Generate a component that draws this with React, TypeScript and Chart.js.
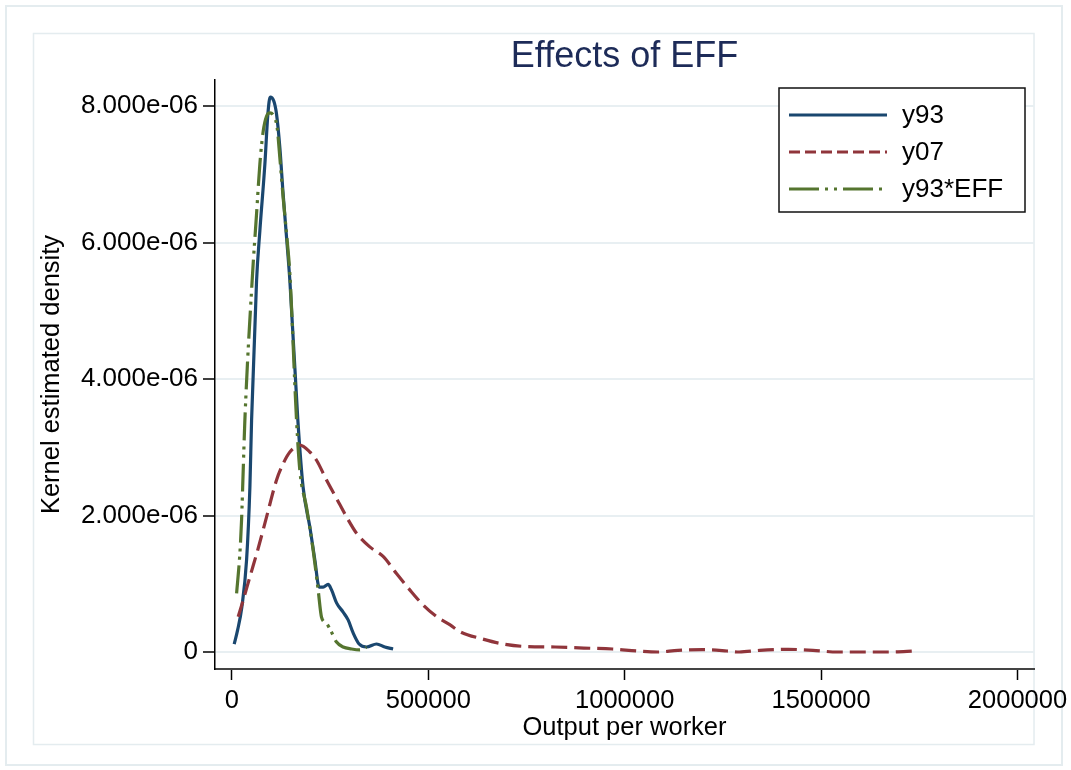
import React, { useEffect, useRef } from "react";
import { Chart, registerables } from "chart.js";

Chart.register(...registerables);

const FONT = "'Liberation Sans', Arial, Helvetica, sans-serif";

const chartTitle = "Effects of EFF";
const xAxisTitle = "Output per worker";
const yAxisTitle = "Kernel estimated density";
const seriesNames = ["y93", "y07", "y93*EFF"];
const seriesColors = ["#1a476f", "#90353b", "#55752f"];

// y93 kernel density (x: output per worker, y: density)
const y93X = [5900, 14500, 25400, 37400, 45800, 50100, 62800, 71200, 84000, 91600, 97500, 106900, 113700, 122100, 129800, 139200, 147600, 168000, 181400, 198500, 211200, 222100, 232300, 245000, 253700, 266400, 283200, 295900, 308700, 323900, 342700, 368200, 389300, 410400];
const y93Y = [0.117e-6, 0.32e-6, 0.66e-6, 1.35e-6, 2.41e-6, 3.39e-6, 5.44e-6, 6.17e-6, 7.15e-6, 7.88e-6, 8.13e-6, 8.07e-6, 7.88e-6, 7.39e-6, 6.76e-6, 6.07e-6, 5.44e-6, 3.39e-6, 2.41e-6, 1.83e-6, 1.35e-6, 0.95e-6, 0.95e-6, 0.99e-6, 0.91e-6, 0.72e-6, 0.585e-6, 0.47e-6, 0.28e-6, 0.117e-6, 0.073e-6, 0.117e-6, 0.073e-6, 0.044e-6];

// y07 kernel density
const y07X = [16000, 28800, 45800, 67000, 88300, 113700, 130600, 147600, 173000, 198500, 215500, 240900, 266400, 291800, 317300, 351100, 385000, 419000, 452900, 486800, 520800, 554700, 583300, 635400, 687500, 739600, 822900, 895800, 968800, 1031300, 1083300, 1135400, 1197900, 1260400, 1291700, 1343800, 1416700, 1479200, 1541700, 1604200, 1677100, 1739600];
const y07Y = [0.517e-6, 0.76e-6, 1.10e-6, 1.52e-6, 1.98e-6, 2.52e-6, 2.76e-6, 2.93e-6, 3.03e-6, 2.93e-6, 2.81e-6, 2.52e-6, 2.25e-6, 1.98e-6, 1.74e-6, 1.54e-6, 1.40e-6, 1.15e-6, 0.91e-6, 0.69e-6, 0.52e-6, 0.40e-6, 0.29e-6, 0.195e-6, 0.12e-6, 0.083e-6, 0.073e-6, 0.058e-6, 0.044e-6, 0.015e-6, 0.0, 0.024e-6, 0.034e-6, 0.015e-6, 0.0, 0.024e-6, 0.039e-6, 0.024e-6, 0.0, 0.0, 0.0, 0.015e-6];

// y93*EFF kernel density
const effX = [12000, 20400, 24600, 28800, 33000, 52600, 62800, 71200, 79700, 88200, 96700, 106900, 115300, 122100, 130600, 140700, 147600, 164600, 173000, 190000, 206900, 219600, 228200, 240900, 253700, 266400, 283200, 304600, 325700, 342700];
const effY = [0.86e-6, 1.45e-6, 1.93e-6, 2.66e-6, 3.39e-6, 5.54e-6, 6.42e-6, 7.15e-6, 7.63e-6, 7.85e-6, 7.90e-6, 7.85e-6, 7.68e-6, 7.24e-6, 6.65e-6, 6.03e-6, 5.54e-6, 3.39e-6, 2.66e-6, 2.12e-6, 1.49e-6, 0.91e-6, 0.51e-6, 0.42e-6, 0.29e-6, 0.146e-6, 0.073e-6, 0.044e-6, 0.03e-6, 0.07e-6];

const xTickValues = [0, 500000, 1000000, 1500000, 2000000];
const xTickLabels = ["0", "500000", "1000000", "1500000", "2000000"];
const yTickValues = [0, 2e-6, 4e-6, 6e-6, 8e-6];
const yTickLabels = ["0", "2.000e-06", "4.000e-06", "6.000e-06", "8.000e-06"];

const toPoints = (xs: number[], ys: number[]) => xs.map((x, i) => ({ x, y: ys[i] }));

const framePlugin = {
  id: "stataFrame",
  beforeDraw(chart: any) {
    const { ctx, width, height, chartArea } = chart;
    ctx.save();
    ctx.fillStyle = "#ffffff";
    ctx.fillRect(0, 0, width, height);
    ctx.strokeStyle = "#e4ecef";
    ctx.lineWidth = 2;
    ctx.strokeRect(6, 6, 1056, 759);
    ctx.lineWidth = 1.5;
    ctx.strokeRect(33.5, 33.5, chartArea.right - 33.5, 711);
    ctx.restore();
  },
};

const titlePlugin = {
  id: "stataTitle",
  afterDraw(chart: any) {
    const { ctx, chartArea } = chart;
    ctx.save();
    ctx.font = `36px ${FONT}`;
    ctx.fillStyle = "#1d2b58";
    ctx.textAlign = "center";
    ctx.textBaseline = "alphabetic";
    ctx.fillText(chartTitle, (chartArea.left + chartArea.right) / 2, 67);
    ctx.restore();
  },
};

const legendPlugin = {
  id: "stataLegend",
  afterDraw(chart: any) {
    const { ctx, chartArea } = chart;
    const w = 246;
    const h = 124;
    const x0 = chartArea.right - 9 - w;
    const y0 = chartArea.top + 8;
    ctx.save();
    ctx.fillStyle = "#ffffff";
    ctx.fillRect(x0, y0, w, h);
    ctx.strokeStyle = "#111111";
    ctx.lineWidth = 1.5;
    ctx.strokeRect(x0, y0, w, h);
    chart.data.datasets.forEach((ds: any, i: number) => {
      const cy = y0 + 27 + i * 37;
      ctx.beginPath();
      ctx.setLineDash(ds.legendDash || []);
      ctx.strokeStyle = ds.borderColor;
      ctx.lineWidth = 3;
      ctx.moveTo(x0 + 10, cy);
      ctx.lineTo(x0 + 108, cy);
      ctx.stroke();
      ctx.setLineDash([]);
      ctx.font = `26px ${FONT}`;
      ctx.fillStyle = "#000000";
      ctx.textAlign = "left";
      ctx.textBaseline = "middle";
      ctx.fillText(ds.label, x0 + 123, cy + 1);
    });
    ctx.restore();
  },
};

export default function App() {
  const canvasRef = useRef<HTMLCanvasElement | null>(null);

  useEffect(() => {
    const canvas = canvasRef.current;
    if (!canvas) return;
    const chart = new Chart(canvas, {
      type: "line",
      data: {
        datasets: [
          {
            label: seriesNames[0],
            data: toPoints(y93X, y93Y),
            borderColor: seriesColors[0],
            borderWidth: 3.2,
            order: 3,
            legendDash: [],
          } as any,
          {
            label: seriesNames[1],
            data: toPoints(y07X, y07Y),
            borderColor: seriesColors[1],
            borderWidth: 3.2,
            borderDash: [16, 7],
            order: 2,
            legendDash: [11, 5],
          } as any,
          {
            label: seriesNames[2],
            data: toPoints(effX, effY),
            borderColor: seriesColors[2],
            borderWidth: 3.2,
            borderDash: [28, 6, 3, 5, 3, 6],
            order: 1,
            legendDash: [30, 6, 3, 6, 3, 6],
          } as any,
        ],
      },
      options: {
        animation: false,
        responsive: false,
        maintainAspectRatio: false,
        layout: { padding: { left: 0, right: 37, top: 80, bottom: 0 } },
        elements: {
          point: { radius: 0, hoverRadius: 0 },
          line: { cubicInterpolationMode: "monotone", borderJoinStyle: "round", fill: false },
        },
        plugins: {
          legend: { display: false },
          title: { display: false },
          tooltip: { enabled: false },
        },
        events: [],
        scales: {
          x: {
            type: "linear",
            min: -43000,
            max: 2042000,
            afterBuildTicks: (s: any) => {
              s.ticks = xTickValues.map((v) => ({ value: v }));
            },
            afterFit: (s: any) => {
              s.height = 101;
              s.paddingLeft = 0;
              s.paddingRight = 0;
            },
            grid: {
              drawOnChartArea: false,
              drawTicks: true,
              tickLength: 11,
              tickColor: "#000000",
              tickWidth: 1.5,
            },
            border: { display: true, color: "#444444", width: 2 },
            ticks: {
              autoSkip: false,
              maxRotation: 0,
              minRotation: 0,
              padding: 6,
              color: "#000000",
              font: { family: FONT, size: 25.5 },
              callback: (v: any) => {
                const i = xTickValues.indexOf(Number(v));
                return i >= 0 ? xTickLabels[i] : "";
              },
            },
            title: {
              display: true,
              text: xAxisTitle,
              color: "#000000",
              font: { family: FONT, size: 25.5 },
              padding: { top: 0, bottom: 27 },
            },
          },
          y: {
            type: "linear",
            min: -0.249e-6,
            max: 8.381e-6,
            afterBuildTicks: (s: any) => {
              s.ticks = yTickValues.map((v) => ({ value: v }));
            },
            afterFit: (s: any) => {
              s.width = 215;
              s.paddingTop = 0;
              s.paddingBottom = 0;
            },
            grid: {
              color: "#e8eff2",
              lineWidth: 2,
              drawTicks: true,
              tickLength: 12,
              tickColor: "#000000",
              tickWidth: 1.5,
            },
            border: { display: true, color: "#000000", width: 1.5 },
            ticks: {
              autoSkip: false,
              padding: 5,
              color: "#000000",
              font: { family: FONT, size: 26 },
              callback: (v: any) => {
                const i = yTickValues.indexOf(Number(v));
                return i >= 0 ? yTickLabels[i] : "";
              },
            },
            title: {
              display: true,
              text: yAxisTitle,
              color: "#000000",
              font: { family: FONT, size: 25.5 },
              padding: { top: 37, bottom: 0 },
            },
          },
        },
      } as any,
      plugins: [framePlugin, titlePlugin, legendPlugin],
    });
    return () => chart.destroy();
  }, []);

  return (
    <div style={{ position: "fixed", left: 0, top: 0, width: 1071, height: 770, background: "#ffffff" }}>
      <canvas ref={canvasRef} width={1071} height={770} style={{ display: "block", width: 1071, height: 770 }} />
    </div>
  );
}
